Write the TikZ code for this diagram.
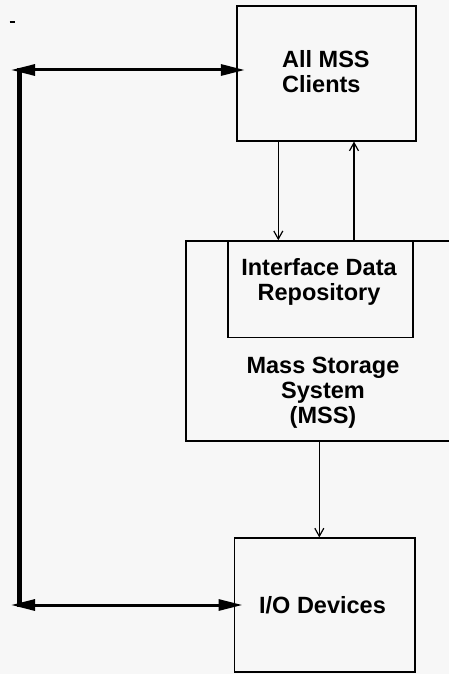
\documentclass[tikz,border=0pt]{standalone}
\usepackage{fontspec}
\setmainfont{Liberation Sans}
\usetikzlibrary{arrows.meta}
\definecolor{bg}{HTML}{F7F7F7}
\begin{document}
\begin{tikzpicture}[x=1pt,y=-1pt,
  box/.style={draw=black,line width=1.7pt,rectangle,inner sep=0pt},
  lbl/.style={align=center,inner sep=0pt,font=\bfseries\fontsize{23.5}{25}\selectfont},
  thin/.style={line width=1.3pt,-{Straight Barb[length=8pt,width=9pt,line width=1.2pt]}},
  bus/.style={line width=3pt,{Triangle[length=24pt,width=11pt]}-{Triangle[length=24pt,width=11pt]}}]
\fill[bg] (0,0) rectangle (449,674);
\useasboundingbox (0,0) rectangle (449,674);
\clip (0,0) rectangle (449,674);
% boxes
\node[box,minimum width=179pt,minimum height=134.7pt] (top) at (326.2,73.4) {};
\node[lbl,align=left,anchor=base west] (toptext) at (282,93) {All MSS\\Clients};
\node[box,minimum width=284.3pt,minimum height=199.7pt] (mss) at (327.9,340.9) {};
\node[box,minimum width=185pt,minimum height=96.3pt] (idr) at (320.8,289.2) {};
\node[lbl,anchor=base] (idrtext) at (319,300) {Interface Data\\Repository};
\node[lbl,anchor=base] (msstext) at (323,423) {Mass Storage\\System\\(MSS)};
\node[box,minimum width=180.7pt,minimum height=133.4pt] (io) at (324.7,605) {};
\node[lbl,anchor=base] (iotext) at (322.5,613) {I/O Devices};
% thin arrows
\coordinate (xa) at (278.3,0);
\coordinate (xb) at (354,0);
\coordinate (xc) at (319.3,0);
\draw[thin] (xa |- top.south) -- (xa |- mss.north);
\draw[thin] (xb |- mss.north) -- (xb |- top.south);
\draw[thin] (xc |- mss.south) -- (xc |- io.north);
% bus
\coordinate (tl) at (11,70);
\coordinate (bl) at (11,605);
\coordinate (vt) at (19.7,70);
\coordinate (vb) at (19.7,605);
\draw[bus] (tl) -- ([xshift=9pt]tl -| top.west);
\draw[bus] (bl) -- ([xshift=9pt]bl -| io.west);
\draw[line width=4.5pt] ([yshift=1.5pt]vt) -- ([yshift=-1.5pt]vb);
% stray mark
\coordinate (m1) at (9.5,21.7);
\coordinate (m2) at (14.5,21.7);
\draw[line width=2pt] (m1) -- (m2);
\end{tikzpicture}
\end{document}
